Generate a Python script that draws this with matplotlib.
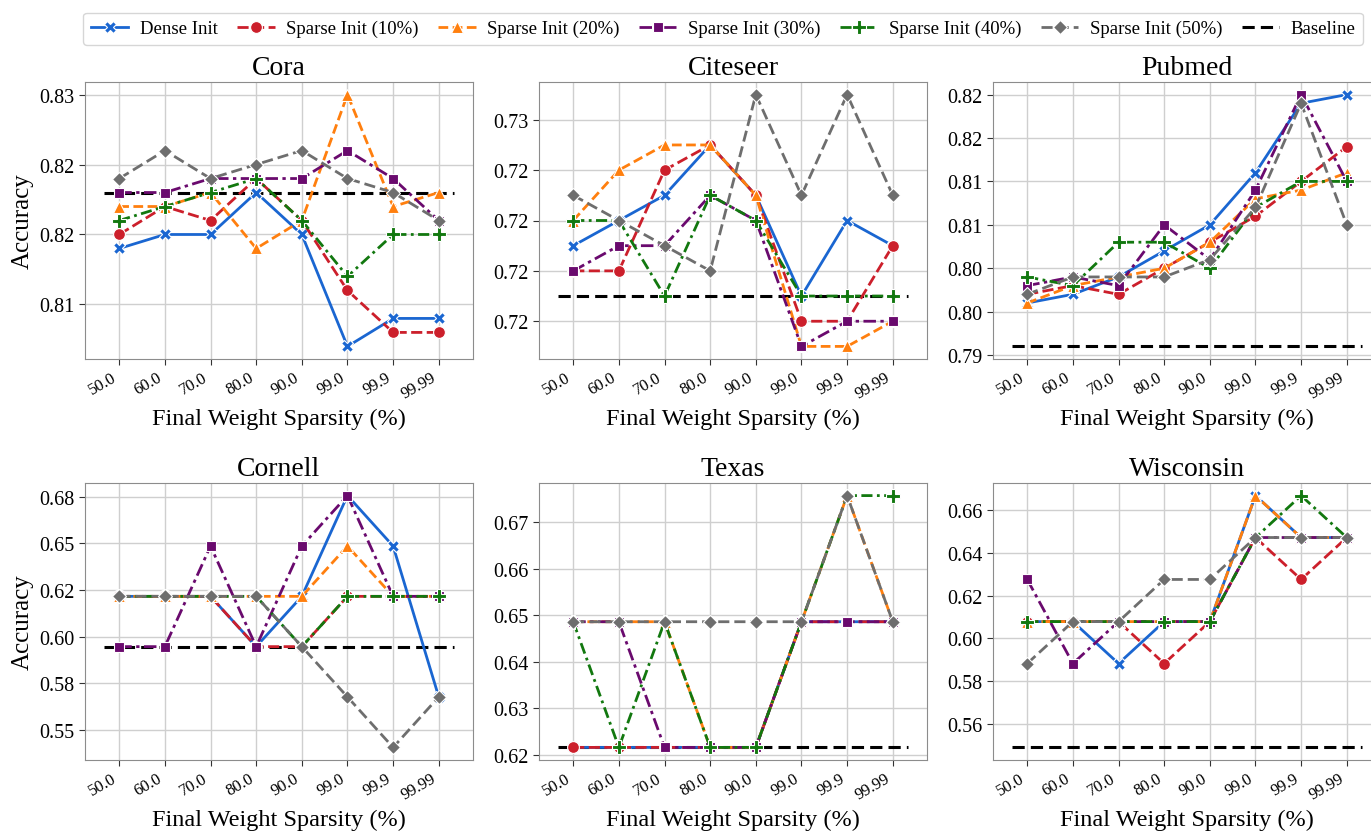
import matplotlib.pyplot as plt
from matplotlib.lines import Line2D

plt.rcParams['font.family'] = 'serif'
plt.rcParams['font.serif'] = ['Liberation Serif', 'DejaVu Serif']

sparsity = ['50.0', '60.0', '70.0', '80.0', '90.0', '99.0', '99.9', '99.99']
datasets = ['Cora', 'Citeseer', 'Pubmed', 'Cornell', 'Texas', 'Wisconsin']
methods = ['Dense Init', 'Sparse Init (10%)', 'Sparse Init (20%)',
           'Sparse Init (30%)', 'Sparse Init (40%)', 'Sparse Init (50%)']

cora = {
    'Dense Init':        [0.819, 0.820, 0.820, 0.823, 0.820, 0.812, 0.814, 0.814],
    'Sparse Init (10%)': [0.820, 0.822, 0.821, 0.824, 0.821, 0.816, 0.813, 0.813],
    'Sparse Init (20%)': [0.822, 0.822, 0.823, 0.819, 0.821, 0.830, 0.822, 0.823],
    'Sparse Init (30%)': [0.823, 0.823, 0.824, 0.824, 0.824, 0.826, 0.824, 0.821],
    'Sparse Init (40%)': [0.821, 0.822, 0.823, 0.824, 0.821, 0.817, 0.820, 0.820],
    'Sparse Init (50%)': [0.824, 0.826, 0.824, 0.825, 0.826, 0.824, 0.823, 0.821],
}
citeseer = {
    'Dense Init':        [0.721, 0.722, 0.723, 0.725, 0.723, 0.719, 0.722, 0.721],
    'Sparse Init (10%)': [0.720, 0.720, 0.724, 0.725, 0.723, 0.718, 0.718, 0.721],
    'Sparse Init (20%)': [0.722, 0.724, 0.725, 0.725, 0.723, 0.717, 0.717, 0.718],
    'Sparse Init (30%)': [0.720, 0.721, 0.721, 0.723, 0.722, 0.717, 0.718, 0.718],
    'Sparse Init (40%)': [0.722, 0.722, 0.719, 0.723, 0.722, 0.719, 0.719, 0.719],
    'Sparse Init (50%)': [0.723, 0.722, 0.721, 0.720, 0.727, 0.723, 0.727, 0.723],
}
pubmed = {
    'Dense Init':        [0.796, 0.797, 0.799, 0.802, 0.805, 0.811, 0.819, 0.820],
    'Sparse Init (10%)': [0.797, 0.798, 0.797, 0.800, 0.803, 0.806, 0.810, 0.814],
    'Sparse Init (20%)': [0.796, 0.798, 0.799, 0.800, 0.803, 0.808, 0.809, 0.811],
    'Sparse Init (30%)': [0.798, 0.799, 0.798, 0.805, 0.801, 0.809, 0.820, 0.810],
    'Sparse Init (40%)': [0.799, 0.798, 0.803, 0.803, 0.800, 0.807, 0.810, 0.810],
    'Sparse Init (50%)': [0.797, 0.799, 0.799, 0.799, 0.801, 0.807, 0.819, 0.805],
}
cornell = {
    'Dense Init':        [0.6216, 0.6216, 0.6216, 0.5946, 0.6216, 0.6757, 0.6486, 0.5676],
    'Sparse Init (10%)': [0.6216, 0.6216, 0.6216, 0.5946, 0.5946, 0.6216, 0.6216, 0.6216],
    'Sparse Init (20%)': [0.6216, 0.6216, 0.6216, 0.6216, 0.6216, 0.6486, 0.6216, 0.6216],
    'Sparse Init (30%)': [0.5946, 0.5946, 0.6486, 0.5946, 0.6486, 0.6757, 0.6216, 0.6216],
    'Sparse Init (40%)': [0.6216, 0.6216, 0.6216, 0.6216, 0.5946, 0.6216, 0.6216, 0.6216],
    'Sparse Init (50%)': [0.6216, 0.6216, 0.6216, 0.6216, 0.5946, 0.5676, 0.5405, 0.5676],
}
texas = {
    'Dense Init':        [0.6216, 0.6216, 0.6216, 0.6216, 0.6216, 0.6486, 0.6486, 0.6486],
    'Sparse Init (10%)': [0.6216, 0.6216, 0.6216, 0.6216, 0.6216, 0.6486, 0.6486, 0.6486],
    'Sparse Init (20%)': [0.6486, 0.6486, 0.6486, 0.6216, 0.6216, 0.6486, 0.6757, 0.6486],
    'Sparse Init (30%)': [0.6486, 0.6486, 0.6216, 0.6216, 0.6216, 0.6486, 0.6486, 0.6486],
    'Sparse Init (40%)': [0.6486, 0.6216, 0.6486, 0.6216, 0.6216, 0.6486, 0.6757, 0.6757],
    'Sparse Init (50%)': [0.6486, 0.6486, 0.6486, 0.6486, 0.6486, 0.6486, 0.6757, 0.6486],
}
wisconsin = {
    'Dense Init':        [0.6078, 0.6078, 0.5882, 0.6078, 0.6078, 0.6667, 0.6471, 0.6471],
    'Sparse Init (10%)': [0.6078, 0.6078, 0.6078, 0.5882, 0.6078, 0.6471, 0.6275, 0.6471],
    'Sparse Init (20%)': [0.6078, 0.6078, 0.6078, 0.6078, 0.6078, 0.6667, 0.6471, 0.6471],
    'Sparse Init (30%)': [0.6275, 0.5882, 0.6078, 0.6078, 0.6078, 0.6471, 0.6471, 0.6471],
    'Sparse Init (40%)': [0.6078, 0.6078, 0.6078, 0.6078, 0.6078, 0.6471, 0.6667, 0.6471],
    'Sparse Init (50%)': [0.5882, 0.6078, 0.6078, 0.6275, 0.6275, 0.6471, 0.6471, 0.6471],
}
results = [cora, citeseer, pubmed, cornell, texas, wisconsin]
baselines = [0.823, 0.719, 0.791, 0.5946, 0.6216, 0.5490]

# y ticks and their printed (rounded) labels per dataset
yticks = [
    [0.815, 0.820, 0.825, 0.830],
    [0.718, 0.720, 0.722, 0.724, 0.726],
    [0.790, 0.795, 0.800, 0.805, 0.810, 0.815, 0.820],
    [0.550, 0.575, 0.600, 0.625, 0.650, 0.675],
    [0.62, 0.63, 0.64, 0.65, 0.66, 0.67],
    [0.56, 0.58, 0.60, 0.62, 0.64, 0.66],
]
ytick_labels = [
    ['0.81', '0.82', '0.82', '0.83'],
    ['0.72', '0.72', '0.72', '0.72', '0.73'],
    ['0.79', '0.80', '0.80', '0.81', '0.81', '0.82', '0.82'],
    ['0.55', '0.58', '0.60', '0.62', '0.65', '0.68'],
    ['0.62', '0.63', '0.64', '0.65', '0.66', '0.67'],
    ['0.56', '0.58', '0.60', '0.62', '0.64', '0.66'],
]

colors = ['#1a66d1', '#cc1f2b', '#ff7f0e', '#6a0a6e', '#12780f', '#6e6e6e']
markers = ['X', 'o', '^', 's', 'P', 'D']
msizes = [9, 8.5, 9, 7.5, 9.5, 7]
dashes = [None, (4, 1.6), (3.5, 1.6), (4.5, 1.6, 1.2, 1.6),
          (4, 1.6, 1, 1.6), (4, 1.8)]


def style(j):
    kw = dict(color=colors[j], marker=markers[j], markersize=msizes[j],
              markeredgecolor='white', markeredgewidth=0.8, lw=2)
    if dashes[j] is None:
        kw['ls'] = '-'
    else:
        kw['dashes'] = dashes[j]
    return kw


fig = plt.figure(figsize=(13.71, 8.37), dpi=100)
lefts = [85 / 1371, 539 / 1371, 993 / 1371]
bottoms = [1 - 360 / 837, 1 - 761 / 837]
w, h = 388 / 1371, 277 / 837

x = list(range(len(sparsity)))
for i, name in enumerate(datasets):
    ax = fig.add_axes([lefts[i % 3], bottoms[i // 3], w, h])
    ax.axhline(baselines[i], xmin=0.05, xmax=0.95, color='black',
               ls=(0, (4, 2)), lw=2.2, zorder=1.5)
    for j, m in enumerate(methods):
        ax.plot(x, results[i][m], **style(j))
    ax.set_xlim(-0.75, 7.75)
    ax.set_xticks(x)
    ax.set_xticklabels(sparsity, rotation=30, ha='right', fontsize=12)
    ax.set_yticks(yticks[i])
    ax.set_yticklabels(ytick_labels[i], fontsize=14.5)
    ax.grid(True, color='#cfcfcf', lw=1)
    ax.set_axisbelow(True)
    for s in ax.spines.values():
        s.set_color('#8c8c8c')
    ax.tick_params(colors='#333333', labelcolor='black', length=4)
    ax.set_title(name, fontsize=20)
    ax.set_xlabel('Final Weight Sparsity (%)', fontsize=17.5)
    if i % 3 == 0:
        ax.set_ylabel('Accuracy', fontsize=18)

handles = [Line2D([], [], **style(j)) for j in range(len(methods))]
handles.append(Line2D([], [], color='black', ls=(0, (4, 2)), lw=2.2))
fig.legend(handles, methods + ['Baseline'], loc='upper center',
           bbox_to_anchor=(0.5274, 0.995), ncol=7, fontsize=13.5,
           handlelength=2.0, handletextpad=0.6, columnspacing=1.05,
           fancybox=True, edgecolor='#cccccc', borderpad=0.4)

fig.savefig('out.png', dpi=100)
